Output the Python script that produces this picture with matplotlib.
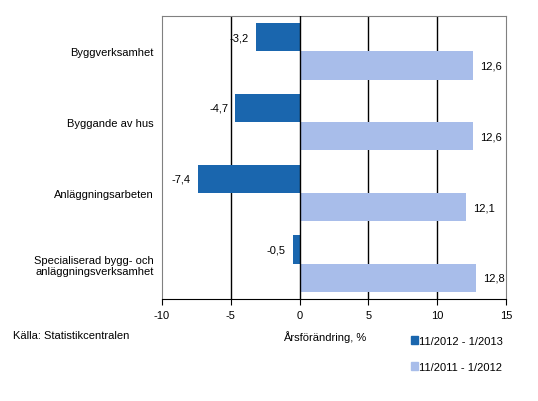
import numpy as np
import matplotlib
matplotlib.use("Agg")
import matplotlib.pyplot as plt
from matplotlib.patches import Patch

plt.rcParams['font.family'] = ['Liberation Sans', 'DejaVu Sans']

categories = ["Byggverksamhet", "Byggande av hus", "Anläggningsarbeten",
              "Specialiserad bygg- och\nanläggningsverksamhet"]
series_2013 = [-3.2, -4.7, -7.4, -0.5]
series_2012 = [12.6, 12.6, 12.1, 12.8]
labels = ["11/2012 - 1/2013", "11/2011 - 1/2012"]
xticks = [-10, -5, 0, 5, 10, 15]

dark = "#1A66AE"
light = "#A8BDEA"

fig = plt.figure(figsize=(5.38, 4.02), dpi=100)
ax = fig.add_axes([162 / 538, 1 - 300 / 402, 344 / 538, 283 / 402])

y = np.arange(len(categories))
h = 0.4
ax.barh(y - h / 2, series_2013, height=h, color=dark, zorder=3)
ax.barh(y + h / 2, series_2012, height=h, color=light, zorder=3)

for yi, v in zip(y, series_2013):
    ax.text(v - 0.5, yi - h / 2, f"{v:.1f}".replace(".", ","), ha="right",
            va="center", fontsize=8)
for yi, v in zip(y, series_2012):
    ax.text(v + 0.5, yi + h / 2, f"{v:.1f}".replace(".", ","), ha="left",
            va="center", fontsize=8)

ax.set_xlim(-10, 15)
ax.set_ylim(len(categories) - 0.5, -0.5)
ax.set_xticks(xticks)
ax.set_xticklabels([str(t) for t in xticks], fontsize=8)
ax.set_yticks(y)
ax.set_yticklabels(categories, fontsize=8, ha="right")
ax.tick_params(axis="y", length=0, pad=6)
ax.tick_params(axis="x", length=4, direction="out", color="black", pad=4)

for xv in [-5, 0, 5, 10]:
    ax.axvline(xv, color="black", lw=1, zorder=4 if xv == 0 else 1)

for side in ["left", "right", "top"]:
    ax.spines[side].set_color("#808080")
ax.spines["bottom"].set_color("black")

fig.text(13 / 538, 1 - 336 / 402, "Källa: Statistikcentralen", fontsize=8,
         va="center", ha="left")
fig.text(325 / 538, 1 - 337 / 402, "Årsförändring, %", fontsize=8,
         va="center", ha="center")

handles = [Patch(color=dark), Patch(color=light)]
fig.legend(handles, labels, loc="upper left", bbox_to_anchor=(405 / 538, 1 - 331 / 402),
           frameon=False, fontsize=8, handlelength=0.7, handleheight=0.7,
           handletextpad=0.1, labelspacing=1.45, borderpad=0)

fig.savefig("out.png", dpi=100)
